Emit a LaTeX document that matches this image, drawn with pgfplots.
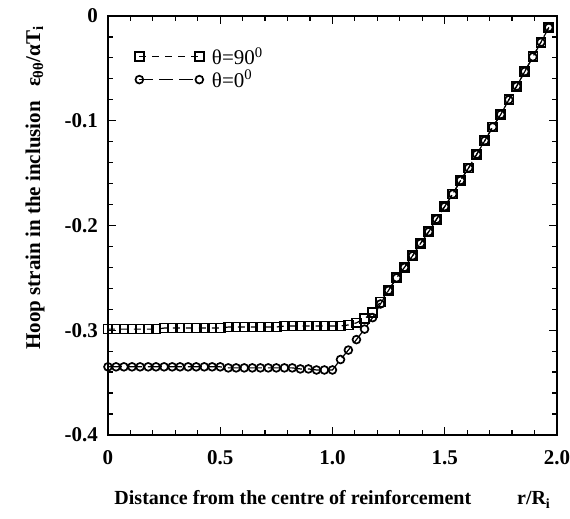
\documentclass[border=0pt]{standalone}
\usepackage{fontspec}
\setmainfont{Liberation Serif}
\usepackage{pgfplots}
\usepackage{pgfplotstable}
\pgfplotsset{compat=1.18}

\pgfplotstableread{
x y
0.000 -0.299
0.036 -0.299
0.071 -0.299
0.107 -0.299
0.143 -0.299
0.179 -0.299
0.214 -0.299
0.250 -0.298
0.286 -0.298
0.321 -0.298
0.357 -0.298
0.393 -0.298
0.429 -0.298
0.464 -0.298
0.500 -0.298
0.536 -0.297
0.571 -0.297
0.607 -0.297
0.643 -0.297
0.679 -0.297
0.714 -0.297
0.750 -0.297
0.786 -0.296
0.821 -0.296
0.857 -0.296
0.893 -0.296
0.929 -0.296
0.964 -0.296
1.000 -0.296
1.036 -0.296
1.071 -0.295
1.107 -0.293
1.143 -0.289
1.179 -0.283
1.214 -0.273
1.250 -0.262
1.286 -0.250
1.321 -0.240
1.357 -0.229
1.393 -0.217
1.429 -0.206
1.464 -0.194
1.500 -0.182
1.536 -0.170
1.571 -0.157
1.607 -0.145
1.643 -0.132
1.679 -0.119
1.714 -0.106
1.750 -0.094
1.786 -0.080
1.821 -0.067
1.857 -0.053
1.893 -0.039
1.929 -0.025
1.964 -0.011
}\sqdata

\pgfplotstableread{
x y
0.000 -0.335
0.036 -0.335
0.071 -0.335
0.107 -0.335
0.143 -0.335
0.179 -0.335
0.214 -0.335
0.250 -0.335
0.286 -0.335
0.321 -0.335
0.357 -0.335
0.393 -0.335
0.429 -0.335
0.464 -0.335
0.500 -0.335
0.536 -0.336
0.571 -0.336
0.607 -0.336
0.643 -0.336
0.679 -0.336
0.714 -0.336
0.750 -0.336
0.786 -0.336
0.821 -0.336
0.857 -0.337
0.893 -0.337
0.929 -0.338
0.964 -0.338
1.000 -0.338
1.036 -0.328
1.071 -0.319
1.107 -0.309
1.143 -0.299
1.179 -0.288
1.214 -0.275
1.250 -0.262
1.286 -0.250
1.321 -0.240
1.357 -0.229
1.393 -0.217
1.429 -0.206
1.464 -0.194
1.500 -0.182
1.536 -0.170
1.571 -0.157
1.607 -0.145
1.643 -0.132
1.679 -0.119
1.714 -0.106
1.750 -0.094
1.786 -0.080
1.821 -0.067
1.857 -0.053
1.893 -0.039
1.929 -0.025
1.964 -0.011
}\cidata

\begin{document}
\begin{tikzpicture}
\begin{axis}[
  name=ax,
  scale only axis,
  width=449pt, height=419pt,
  xmin=0, xmax=2, ymin=-0.4, ymax=0,
  xtick={0,0.5,1,1.5,2},
  xticklabels={0,0.5,1.0,1.5,2.0},
  ytick={-0.4,-0.3,-0.2,-0.1,0},
  yticklabels={-0.4,-0.3,-0.2,-0.1,0},
  minor x tick num=4,
  minor y tick num=4,
  tick align=inside,
  major tick length=8pt,
  minor tick length=5pt,
  tick style={line width=1.2pt, black},
  axis line style={line width=1.6pt},
  xticklabel style={font=\fontsize{21}{24}\selectfont\bfseries, anchor=base, inner sep=0pt, yshift=-30pt},
  yticklabel style={font=\fontsize{21}{24}\selectfont\bfseries, anchor=east, inner sep=0pt, xshift=-10pt},
  xlabel={Distance from the centre of reinforcement\hspace{46pt}r/R\textsubscript{i}},
  ylabel={Hoop strain in the inclusion\hspace{14pt}ε\textsubscript{θθ}/αT\textsubscript{i}},
  xlabel style={font=\fontsize{20}{24}\selectfont\bfseries, at={(axis description cs:0.5,0)}, anchor=base, yshift=-70pt},
  ylabel style={font=\fontsize{21}{24}\selectfont\bfseries, at={(axis description cs:-0.1626,0.59)}, anchor=center},
  legend style={draw=none, fill=none, at={(axis description cs:0.055,0.935)}, anchor=north west,
    font=\fontsize{21}{24}\selectfont, row sep=0pt, inner sep=2pt},
  legend cell align=left,
  legend image code/.code={
    \draw[#1,mark=none] (0pt,0pt) -- (60pt,0pt);
    \draw[#1,only marks] plot coordinates {(0pt,0pt) (60pt,0pt)};
    \path (70pt,0pt);
  },
  clip=false,
]
\addplot[black, line width=1.2pt, dash pattern=on 7pt off 6pt,
  mark=square, mark size=4.5pt, mark options={solid, fill=white, line width=1.7pt}]
  table[x=x,y=y] {\sqdata};
\addlegendentry{θ=90\textsuperscript{0}}
\addplot[black, line width=1.2pt, dash pattern=on 14pt off 6pt,
  mark=o, mark size=3.9pt, mark options={solid, fill=white, line width=1.7pt}]
  table[x=x,y=y] {\cidata};
\addlegendentry{θ=0\textsuperscript{0}}
\end{axis}
\path (ax.south west) +(-108pt,-84pt) (ax.north east) +(13pt,16pt);
\end{tikzpicture}
\end{document}
